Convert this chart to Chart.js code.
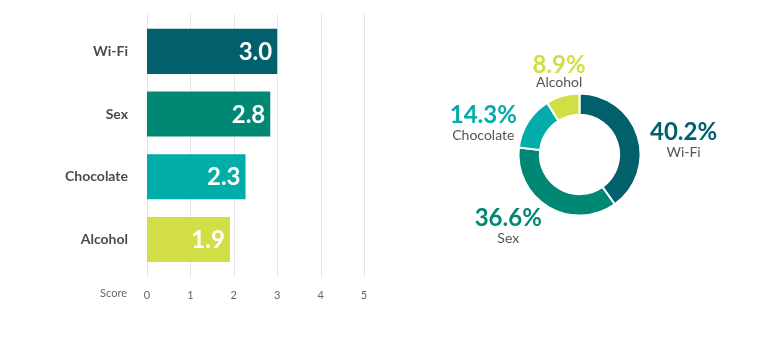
<!DOCTYPE html>
<html>
<head>
<meta charset="utf-8">
<script src="https://cdn.jsdelivr.net/npm/chart.js@4.4.0/dist/chart.umd.min.js"></script>
<style>
  body { margin: 0; background: #fff; }
  #wrap { position: relative; width: 773px; height: 345px; }
  #barChart { position: absolute; left: 0; top: 0; }
  #pieChart { position: absolute; left: 430px; top: 0; }
</style>
</head>
<body>
<div id="wrap">
  <canvas id="barChart" width="420" height="345"></canvas>
  <canvas id="pieChart" width="343" height="345"></canvas>
</div>
<script>
const categories = ['Wi-Fi', 'Sex', 'Chocolate', 'Alcohol'];
const scores = [3.0, 2.84, 2.27, 1.91];
const shares = [40.2, 36.6, 14.3, 8.9];
const colors = ['#01606b', '#018874', '#00ada8', '#d2de45'];
const scoreTicks = [0, 1, 2, 3, 4, 5];

const FONT = 'Lato, "Open Sans", sans-serif';

// vertical grid lines a bit taller than the plot area
const gridPlugin = {
  id: 'grid',
  beforeDatasetsDraw(chart) {
    const { ctx, chartArea, scales } = chart;
    ctx.save();
    ctx.strokeStyle = '#e6e6e6';
    ctx.lineWidth = 1;
    scales.x.ticks.forEach((t, i) => {
      const px = Math.round(scales.x.getPixelForTick(i)) + 0.5;
      ctx.beginPath();
      ctx.moveTo(px, chartArea.top - 6);
      ctx.lineTo(px, chartArea.bottom + 7);
      ctx.stroke();
    });
    ctx.restore();
  }
};

const barLabels = {
  id: 'barLabels',
  afterDatasetsDraw(chart) {
    const { ctx, scales, chartArea } = chart;
    const meta = chart.getDatasetMeta(0);
    ctx.save();
    ctx.font = 'bold 24px ' + FONT;
    ctx.fillStyle = '#fff';
    ctx.textAlign = 'right';
    ctx.textBaseline = 'middle';
    meta.data.forEach((bar, i) => {
      ctx.fillText(scores[i].toFixed(1), bar.x - 5, bar.y + 1);
    });
    // axis name to the left of the tick row
    ctx.font = '11px ' + FONT;
    ctx.fillStyle = '#666';
    ctx.fillText('Score', scales.y.right - 20, chartArea.bottom + 23);
    ctx.restore();
  }
};

new Chart(document.getElementById('barChart'), {
  type: 'bar',
  data: {
    labels: categories,
    datasets: [{
      data: scores,
      backgroundColor: colors,
      barPercentage: 0.72,
      categoryPercentage: 1
    }]
  },
  options: {
    indexAxis: 'y',
    responsive: false,
    animation: false,
    layout: { padding: { top: 20, bottom: 25, right: 56, left: 0 } },
    plugins: { legend: { display: false }, tooltip: { enabled: false } },
    scales: {
      x: {
        min: 0,
        max: 5,
        afterBuildTicks: (s) => { s.ticks = scoreTicks.map(v => ({ value: v })); },
        grid: { display: false, drawTicks: false },
        border: { display: false },
        ticks: { color: '#666', font: { family: FONT, size: 11 }, padding: 18 }
      },
      y: {
        afterFit: (s) => { s.width = 147; s.paddingTop = 0; s.paddingBottom = 0; },
        grid: { display: false, drawTicks: false },
        border: { display: false },
        ticks: { color: '#4a4a4a', font: { family: FONT, size: 14, weight: 'bold' }, padding: 19 }
      }
    }
  },
  plugins: [gridPlugin, barLabels]
});

const pieLabels = {
  id: 'pieLabels',
  afterDatasetsDraw(chart) {
    const { ctx } = chart;
    const meta = chart.getDatasetMeta(0);
    ctx.save();
    ctx.textBaseline = 'middle';
    meta.data.forEach((arc, i) => {
      const p = arc.getProps(['x', 'y', 'startAngle', 'endAngle', 'outerRadius'], true);
      const mid = (p.startAngle + p.endAngle) / 2;
      const r = p.outerRadius + 13;
      const dx = Math.cos(mid);
      const ax = p.x + dx * r;
      const ay = p.y + Math.sin(mid) * r;
      const pct = shares[i].toFixed(1) + '%';
      ctx.font = 'bold 24px ' + FONT;
      const w = ctx.measureText(pct).width;
      let px, py, nx, ny;
      if (Math.abs(dx) < 0.4) {
        ctx.textAlign = 'center';
        px = ax; nx = ax; ny = ay - 1; py = ny - 17;
      } else if (dx > 0) {
        ctx.textAlign = 'left';
        px = ax; py = ay; nx = ax + w / 2; ny = ay + 20;
      } else {
        ctx.textAlign = 'right';
        px = ax; py = ay; nx = ax - w / 2; ny = ay + 20;
      }
      ctx.fillStyle = colors[i];
      ctx.fillText(pct, px, py);
      ctx.font = '14px ' + FONT;
      ctx.textAlign = 'center';
      ctx.fillStyle = '#555';
      ctx.fillText(categories[i], nx, ny);
    });
    ctx.restore();
  }
};

new Chart(document.getElementById('pieChart'), {
  type: 'doughnut',
  data: {
    labels: categories,
    datasets: [{
      data: shares,
      backgroundColor: colors,
      borderColor: '#fff',
      borderWidth: 2
    }]
  },
  options: {
    responsive: false,
    animation: false,
    cutout: '65%',
    layout: { padding: { left: 87.5, right: 131.5, top: 92.5, bottom: 128.5 } },
    plugins: { legend: { display: false }, tooltip: { enabled: false } }
  },
  plugins: [pieLabels]
});
</script>
</body>
</html>
